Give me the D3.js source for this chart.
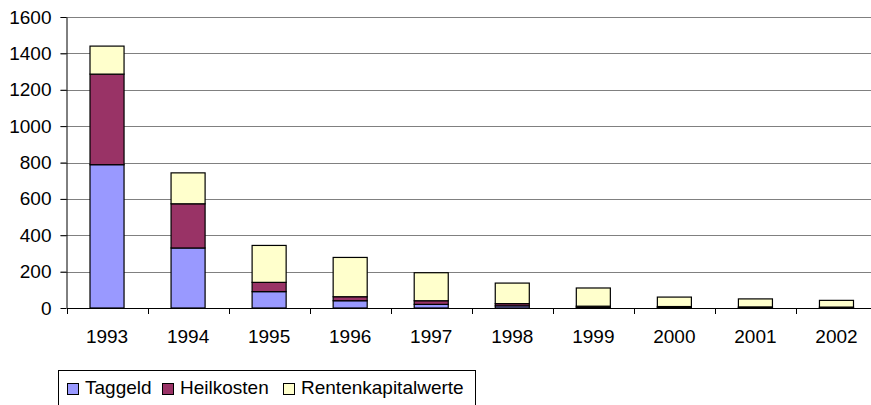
<!DOCTYPE html>
<html>
<head>
<meta charset="utf-8">
<script src="https://cdn.jsdelivr.net/npm/d3@7"></script>
<style>
  body { margin: 0; background: #fff; }
  svg { display: block; font-family: "Liberation Sans", Arial, sans-serif; }
</style>
</head>
<body>
<div id="chart"></div>
<script>
// Daten
const years = ["1993", "1994", "1995", "1996", "1997", "1998", "1999", "2000", "2001", "2002"];
const taggeld = [788, 330, 90, 40, 20, 12, 4, 3, 2, 2];
const heilkosten = [498, 243, 51, 22, 20, 12, 6, 5, 4, 3];
const rentenkapitalwerte = [154, 170, 203, 216, 154, 113, 100, 52, 44, 37];
const yTicks = [0, 200, 400, 600, 800, 1000, 1200, 1400, 1600];

const seriesNames = ["Taggeld", "Heilkosten", "Rentenkapitalwerte"];
const seriesColors = ["#9999ff", "#993366", "#ffffcc"];

const W = 871, H = 405;
const plotLeft = 66.5, plotRight = 877, plotTop = 17, plotBottom = 308;

const svg = d3.select("#chart").append("svg")
  .attr("width", W).attr("height", H);

const x = d3.scaleBand().domain(years).range([plotLeft, plotRight])
  .paddingInner(0.58).paddingOuter(0.29);
const y = d3.scaleLinear().domain([0, 1600]).range([plotBottom, plotTop]);

const rows = years.map((yr, i) => ({
  year: yr, Taggeld: taggeld[i], Heilkosten: heilkosten[i], Rentenkapitalwerte: rentenkapitalwerte[i]
}));
const stacked = d3.stack().keys(seriesNames)(rows);

// Gitternetz
svg.append("g")
  .selectAll("line")
  .data(yTicks.filter(v => v > 0))
  .join("line")
  .attr("x1", plotLeft - 6).attr("x2", plotRight)
  .attr("y1", d => Math.round(y(d)) + 0.5).attr("y2", d => Math.round(y(d)) + 0.5)
  .attr("stroke", "#808080").attr("stroke-width", 1);

// Balken
svg.append("g")
  .selectAll("g")
  .data(stacked)
  .join("g")
  .attr("fill", (d, i) => seriesColors[i])
  .selectAll("rect")
  .data(d => d)
  .join("rect")
  .attr("x", d => x(d.data.year))
  .attr("y", d => y(d[1]))
  .attr("width", x.bandwidth())
  .attr("height", d => y(d[0]) - y(d[1]))
  .attr("stroke", "#000").attr("stroke-width", 1.2);

// Y-Achse
const yAxis = svg.append("g")
  .attr("transform", `translate(${plotLeft},0)`)
  .call(d3.axisLeft(y).tickValues(yTicks).tickFormat(d3.format("d"))
    .tickSize(6).tickSizeOuter(0).tickPadding(9));
yAxis.select(".domain").attr("stroke", "#000");
yAxis.selectAll(".tick line").attr("stroke", "#000");
yAxis.selectAll("text").attr("font-size", 19).attr("fill", "#000")
  .attr("font-family", "'Liberation Sans', Arial, sans-serif");

// X-Achse
const xAxis = svg.append("g")
  .attr("transform", `translate(0,${plotBottom})`)
  .call(d3.axisBottom(x).tickSize(0).tickSizeOuter(0).tickPadding(22));
xAxis.select(".domain").attr("stroke", "#000");
xAxis.selectAll("text").attr("font-size", 19).attr("fill", "#000")
  .attr("font-family", "'Liberation Sans', Arial, sans-serif");

// Kategorietrenner
svg.append("g")
  .selectAll("line")
  .data(d3.range(years.length + 1))
  .join("line")
  .attr("x1", i => Math.round(plotLeft + i * x.step()) + 0.5)
  .attr("x2", i => Math.round(plotLeft + i * x.step()) + 0.5)
  .attr("y1", plotBottom).attr("y2", plotBottom + 6)
  .attr("stroke", "#000");

// Legende
const legend = svg.append("g");
legend.append("rect")
  .attr("x", 58.5).attr("y", 370.5).attr("width", 417).attr("height", 50)
  .attr("fill", "#fff").attr("stroke", "#000");

const legendX = [67, 162, 283];
const item = legend.selectAll("g.item")
  .data(seriesNames)
  .join("g").attr("class", "item")
  .attr("transform", (d, i) => `translate(${legendX[i]},0)`);
item.append("rect")
  .attr("x", 0.5).attr("y", 383.5).attr("width", 11).attr("height", 11)
  .attr("fill", (d, i) => seriesColors[i]).attr("stroke", "#000");
item.append("text")
  .attr("x", 18).attr("y", 394)
  .attr("font-size", 19).attr("fill", "#000")
  .text(d => d);
</script>
</body>
</html>
